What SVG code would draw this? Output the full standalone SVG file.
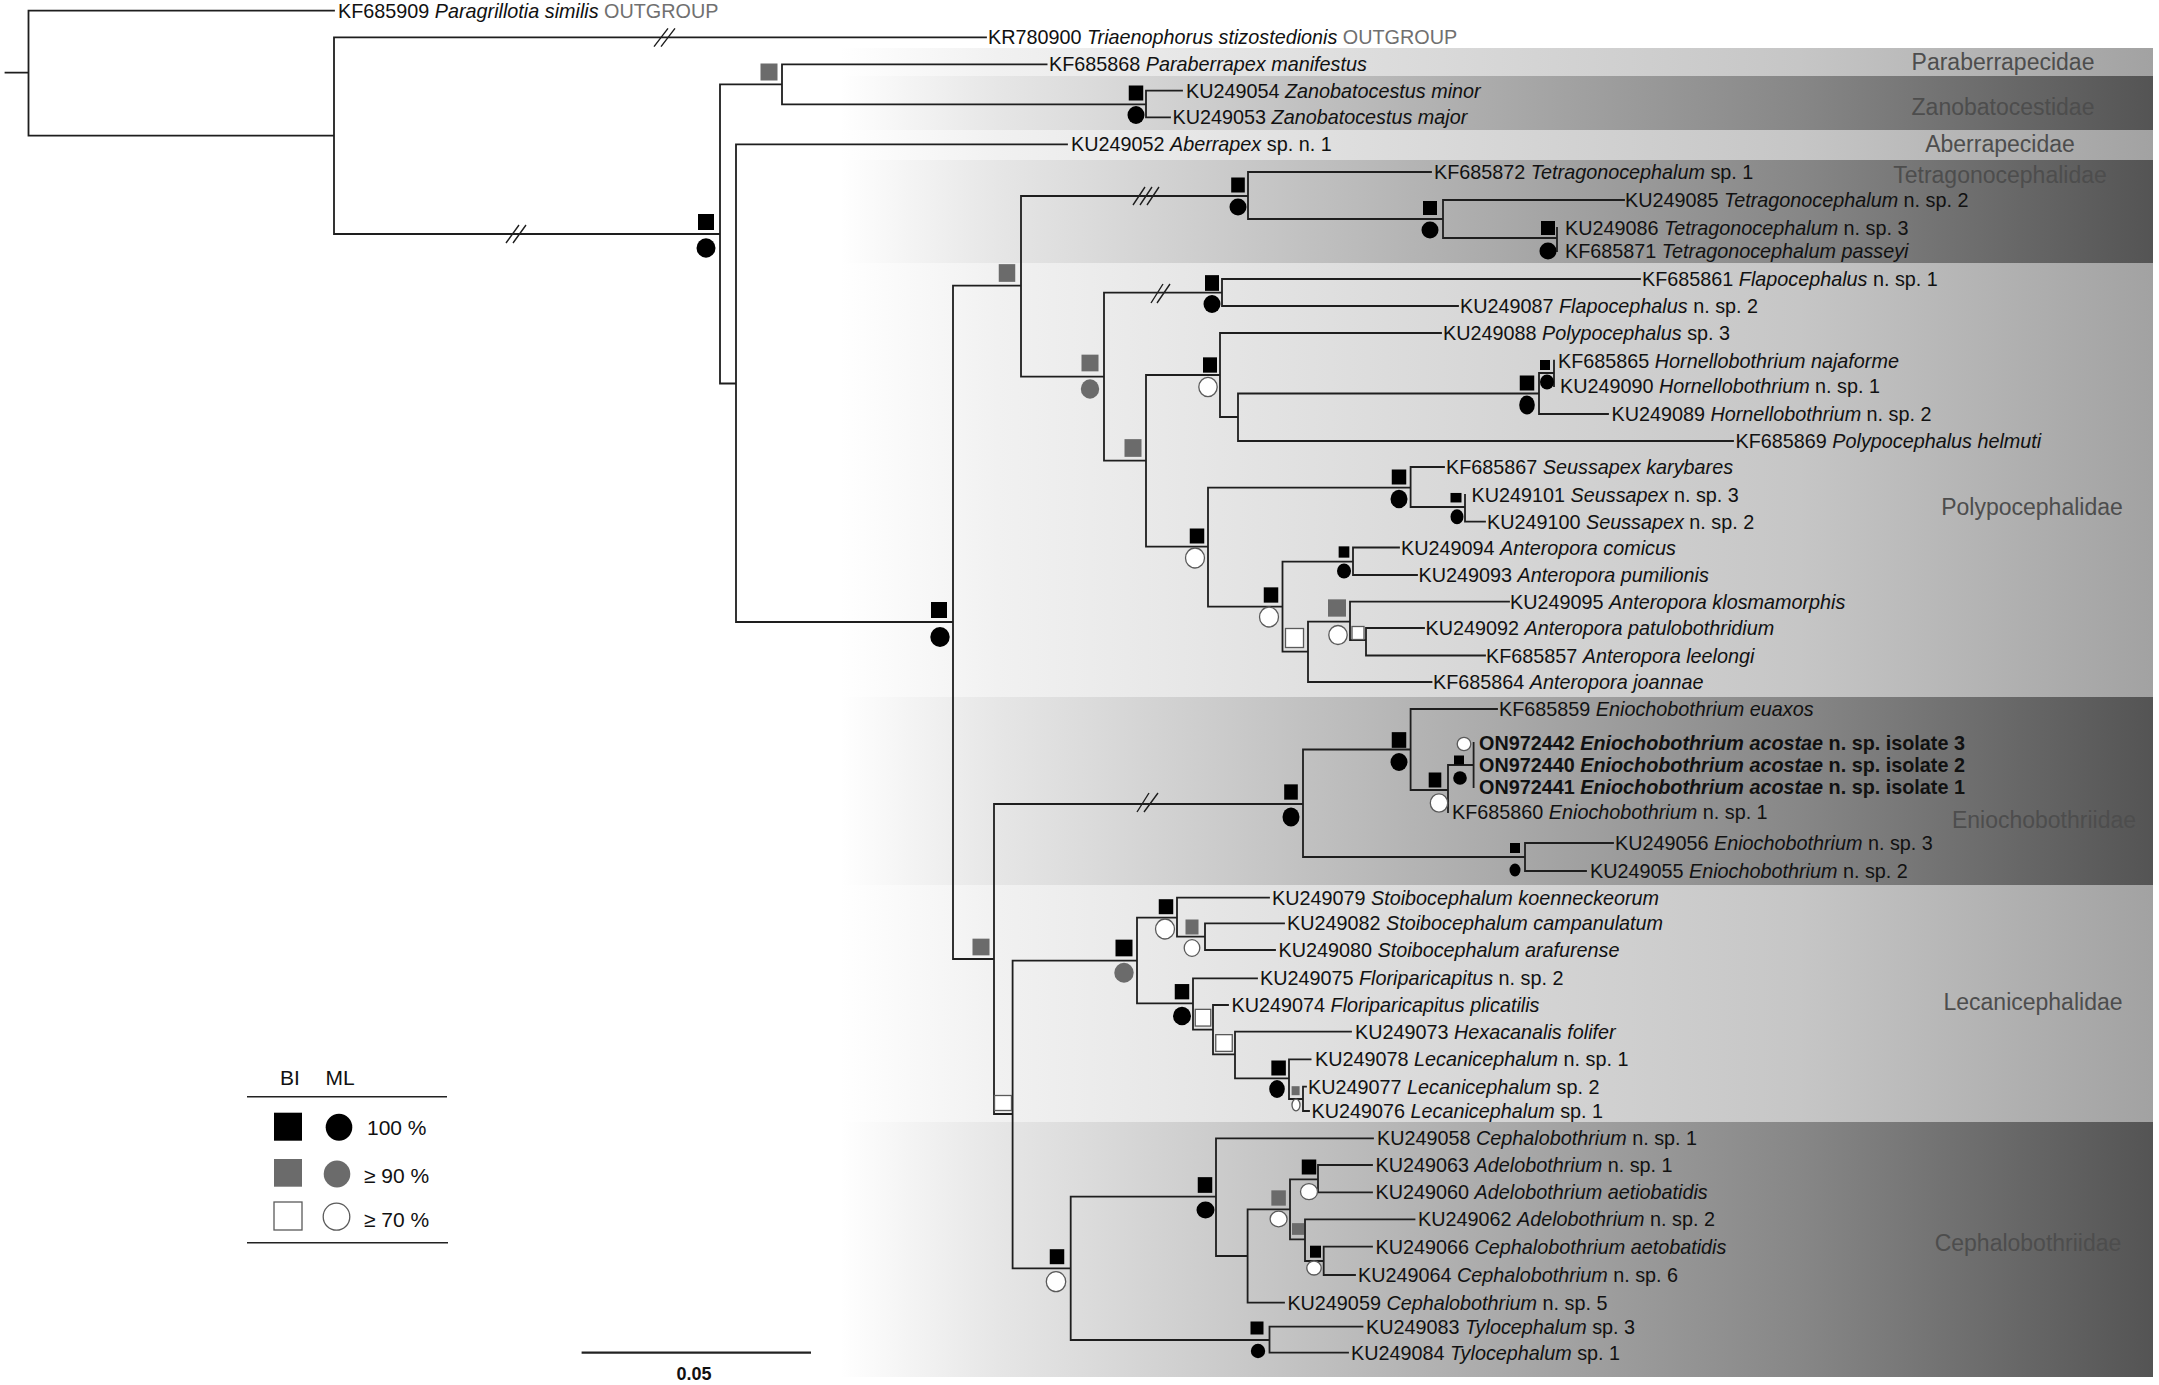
<svg xmlns="http://www.w3.org/2000/svg" width="2159" height="1385" viewBox="0 0 2159 1385">
<style>
.br{stroke:#1e1e1e;stroke-width:1.8;fill:none;stroke-linecap:square}
.sl{stroke:#1e1e1e;stroke-width:1.4;fill:none}
.t{font-family:"Liberation Sans",Arial,sans-serif;font-size:19.8px;fill:#111}
.i{font-style:italic}
.b{font-weight:bold}
.og{fill:#707070}
.fam{font-family:"Liberation Sans",Arial,sans-serif;font-size:23px;fill:#4d4d4d;text-anchor:middle}
.sb{fill:#000}
.sg{fill:#6b6b6b}
.sw{fill:#fff;stroke:#5a5a5a;stroke-width:1.3}
.lg{font-family:"Liberation Sans",Arial,sans-serif;font-size:21px;fill:#111}
</style>
<defs>
<linearGradient id="gl" gradientUnits="userSpaceOnUse" x1="840" y1="0" x2="2153" y2="0">
<stop offset="0" stop-color="#ffffff"/><stop offset="0.12" stop-color="#f1f1f1"/><stop offset="0.43" stop-color="#dbdbdb"/><stop offset="0.73" stop-color="#c6c6c6"/><stop offset="1" stop-color="#a2a2a2"/>
</linearGradient>
<linearGradient id="gd" gradientUnits="userSpaceOnUse" x1="840" y1="0" x2="2153" y2="0">
<stop offset="0" stop-color="#ffffff"/><stop offset="0.12" stop-color="#e6e6e6"/><stop offset="0.43" stop-color="#b5b5b5"/><stop offset="0.73" stop-color="#878787"/><stop offset="1" stop-color="#545454"/>
</linearGradient>
</defs>
<rect width="2159" height="1385" fill="#fff"/>
<g id="bands">
<rect x="840" y="48" width="1313" height="28" fill="url(#gl)"/>
<rect x="840" y="76" width="1313" height="54" fill="url(#gd)"/>
<rect x="840" y="130" width="1313" height="30" fill="url(#gl)"/>
<rect x="840" y="160" width="1313" height="103" fill="url(#gd)"/>
<rect x="840" y="263" width="1313" height="434" fill="url(#gl)"/>
<rect x="840" y="697" width="1313" height="188" fill="url(#gd)"/>
<rect x="840" y="885" width="1313" height="237" fill="url(#gl)"/>
<rect x="840" y="1122" width="1313" height="255" fill="url(#gd)"/>
<text class="fam" x="2003" y="70">Paraberrapecidae</text>
<text class="fam" x="2003" y="115">Zanobatocestidae</text>
<text class="fam" x="2000" y="152">Aberrapecidae</text>
<text class="fam" x="2000" y="183">Tetragonocephalidae</text>
<text class="fam" x="2032" y="515">Polypocephalidae</text>
<text class="fam" x="2044" y="828">Eniochobothriidae</text>
<text class="fam" x="2033" y="1010">Lecanicephalidae</text>
<text class="fam" x="2028" y="1251">Cephalobothriidae</text>
</g>
<g id="connectors">
<path class="br" d="M5.5 72.7H28.5M28.5 10.7V135.7M28.5 10.7H334M28.5 135.7H334M334 37.3V234M334 37.3H986M334 234H720M720 84.3V383.5M720 84.3H782M782 64.3V104.3M782 64.3H1046.6M782 104.3H1146M1146 90.7V117.3M1146 90.7H1182M1146 117.3H1170M720 383.5H736M736 144.3V622M736 144.3H1067M736 622H953M953 285.7V959M953 285.7H1021M1021 196V376.7M1021 196H1248M1248 172V219M1248 172H1431M1248 219H1443M1443 200V238M1443 200H1624M1443 238H1557M1557 228V251M1021 376.7H1104M1104 292.7V460.7M1104 292.7H1222M1222 279V306M1222 279H1640M1222 306H1458M1104 460.7H1146M1146 375V546.7M1146 375H1220M1220 333V417M1220 333H1441M1220 417H1238M1238 393.5V441M1238 393.5H1539M1539 373V414M1539 373H1554M1554 360.7V386M1539 414H1608M1238 441H1733M1146 546.7H1208M1208 487.7V606.7M1208 487.7H1410.6M1410.6 467V507M1410.6 467H1444M1410.6 507H1465M1465 495V521.7M1465 521.7H1485M1208 606.7H1282.5M1282.5 561.7V651.7M1282.5 561.7H1353M1353 547.5V575M1353 547.5H1399M1353 575H1417M1282.5 651.7H1308M1308 621.7V682M1308 621.7H1350M1350 601.7V640M1350 601.7H1509M1350 640H1366M1366 628V655.5M1366 628H1424M1366 655.5H1485M1308 682H1431.5M953 959H994M994 804V1114M994 804H1303M1303 749.5V857M1303 749.5H1410.6M1410.6 709V790M1410.6 709H1497M1410.6 790H1448M1448 765V812M1448 765H1473.6M1473.6 743V787M1303 857H1525M1525 843V871M1525 843H1613M1525 871H1586M994 1114H1012.6M1012.6 960.7V1268.3M1012.6 960.7H1137M1137 917.7V1003.3M1137 917.7H1177M1177 897.7V936.7M1177 897.7H1269M1177 936.7H1205M1205 923.3V950M1205 923.3H1284M1205 950H1275M1137 1003.3H1193M1193 978.3V1029.7M1193 978.3H1257M1193 1029.7H1213M1213 1005V1054.3M1213 1005H1228M1213 1054.3H1235M1235 1031.7V1078.3M1235 1031.7H1351M1235 1078.3H1289M1289 1059.3V1099M1289 1059.3H1310.6M1289 1099H1303M1303 1086.7V1111M1303 1086.7H1306M1303 1111H1309M1012.6 1268.3H1070.7M1070.7 1196.7V1340M1070.7 1196.7H1216M1216 1138.3V1256M1216 1138.3H1373M1216 1256H1247.6M1247.6 1209.3V1302.7M1247.6 1209.3H1290M1290 1179.3V1239.3M1290 1179.3H1318M1318 1165V1192.3M1318 1165H1372M1318 1192.3H1372M1290 1239.3H1305M1305 1219.3V1261M1305 1219.3H1414.5M1305 1261H1323.7M1323.7 1246.7V1275M1323.7 1246.7H1372M1323.7 1275H1355M1247.6 1302.7H1284M1070.7 1340H1269.5M1269.5 1326.7V1352.7M1269.5 1326.7H1362.5M1269.5 1352.7H1348"/>
<path class="sl" d="M654 46.7L668 28.3M661 46.7L675 28.3M506 243L519 225M513 243L526 225M1133 205L1145 187M1140 205L1152 187M1147 205L1159 187M1151 303L1163 284M1157 303L1170 284M1137 812L1149 793M1144 812L1158 793"/>
</g>
<g id="support">
<g id="n1"><rect class="sb" x="698" y="214" width="16" height="16"/><ellipse class="sb" cx="706" cy="248" rx="9.5" ry="9.7"/></g>
<g id="n2"><rect class="sg" x="760.5" y="63.5" width="17" height="17"/></g>
<g id="n3"><rect class="sb" x="1128.75" y="85.5" width="14.5" height="15"/><ellipse class="sb" cx="1136" cy="115" rx="8.5" ry="9"/></g>
<g id="n4"><rect class="sb" x="931" y="602" width="16" height="16"/><ellipse class="sb" cx="940" cy="637" rx="9.7" ry="10"/></g>
<g id="n5"><rect class="sg" x="998.75" y="264.15" width="16.5" height="17.7"/></g>
<g id="n6"><rect class="sb" x="1231.2" y="177.5" width="13.6" height="15"/><ellipse class="sb" cx="1238" cy="207" rx="8.5" ry="8.5"/></g>
<g id="n7"><rect class="sb" x="1423" y="201" width="14" height="14"/><ellipse class="sb" cx="1430" cy="230" rx="8.5" ry="8.5"/></g>
<g id="n8"><rect class="sb" x="1541" y="221" width="14" height="14"/><ellipse class="sb" cx="1548" cy="251" rx="8.5" ry="8.5"/></g>
<g id="n9"><rect class="sg" x="1081.5" y="354.65" width="17" height="16.7"/><ellipse class="sg" cx="1090" cy="389" rx="9.2" ry="9.7"/></g>
<g id="n10"><rect class="sb" x="1205" y="275.15" width="14" height="15.7"/><ellipse class="sb" cx="1212" cy="304" rx="8.5" ry="9"/></g>
<g id="n11"><rect class="sg" x="1124.5" y="439.15" width="17" height="17.7"/></g>
<g id="n12"><rect class="sb" x="1203" y="357.35" width="14" height="15.3"/><ellipse class="sw" cx="1208" cy="387" rx="9.2" ry="9.6"/></g>
<g id="n13"><rect class="sb" x="1519.75" y="375.5" width="14.5" height="15"/><ellipse class="sb" cx="1527" cy="405" rx="7.8" ry="9.5"/></g>
<g id="n14"><rect class="sb" x="1540" y="360" width="10" height="10"/><ellipse class="sb" cx="1547" cy="382" rx="7" ry="7.5"/></g>
<g id="n15"><rect class="sb" x="1189.75" y="528.5" width="14.5" height="15"/><ellipse class="sw" cx="1195" cy="558" rx="9.5" ry="10"/></g>
<g id="n16"><rect class="sb" x="1391.75" y="469.5" width="14.5" height="15"/><ellipse class="sb" cx="1399" cy="499" rx="8.5" ry="9.2"/></g>
<g id="n17"><rect class="sb" x="1450.5" y="492.95" width="11" height="9.5"/><ellipse class="sb" cx="1457" cy="516.7" rx="6.5" ry="7.5"/></g>
<g id="n18"><rect class="sb" x="1263.75" y="587.35" width="14.5" height="15.3"/><ellipse class="sw" cx="1269" cy="617" rx="9.5" ry="10"/></g>
<g id="n19"><rect class="sb" x="1338.65" y="546.35" width="10.7" height="11.3"/><ellipse class="sb" cx="1344" cy="571" rx="7" ry="7.5"/></g>
<g id="n20"><rect class="sw" x="1285.5" y="628.5" width="18" height="19"/></g>
<g id="n21"><rect class="sg" x="1328" y="599.35" width="18" height="17.3"/><ellipse class="sw" cx="1338" cy="635" rx="9.2" ry="9.5"/></g>
<g id="n22"><rect class="sw" x="1352" y="626.5" width="12" height="13"/></g>
<g id="n23"><rect class="sb" x="1284.2" y="784.35" width="13.6" height="15.3"/><ellipse class="sb" cx="1291" cy="817" rx="8.5" ry="9.5"/></g>
<g id="n24"><rect class="sb" x="1391.75" y="732.15" width="14.5" height="15.7"/><ellipse class="sb" cx="1399" cy="762" rx="8.5" ry="9"/></g>
<g id="n25"><rect class="sb" x="1428.7" y="772.5" width="12.6" height="15"/><ellipse class="sw" cx="1439" cy="803" rx="8.7" ry="9.2"/></g>
<g id="n26"><rect class="sb" x="1454" y="755.5" width="10" height="9"/><ellipse class="sb" cx="1460" cy="778" rx="6.8" ry="6.7"/></g>
<g id="n27"><ellipse class="sw" cx="1464" cy="744" rx="6.8" ry="6.7"/></g>
<g id="n28"><rect class="sb" x="1510" y="843" width="10" height="10"/><ellipse class="sb" cx="1515" cy="870" rx="5.5" ry="6.5"/></g>
<g id="n29"><rect class="sg" x="972.5" y="938.65" width="17" height="16.7"/></g>
<g id="n30"><rect class="sw" x="994.5" y="1095.5" width="17" height="15"/></g>
<g id="n31"><rect class="sb" x="1115.5" y="939.65" width="17" height="16.7"/><ellipse class="sg" cx="1124" cy="972.7" rx="9.7" ry="10"/></g>
<g id="n32"><rect class="sb" x="1158.75" y="899.2" width="14.5" height="15"/><ellipse class="sw" cx="1165" cy="929" rx="9.5" ry="10"/></g>
<g id="n33"><rect class="sg" x="1185.5" y="919.5" width="13" height="15"/><ellipse class="sw" cx="1192" cy="948" rx="7.8" ry="8.3"/></g>
<g id="n34"><rect class="sb" x="1174.75" y="984.05" width="14.5" height="15.3"/><ellipse class="sb" cx="1182" cy="1016" rx="9" ry="9.2"/></g>
<g id="n35"><rect class="sw" x="1195.25" y="1009.35" width="15.5" height="16.7"/></g>
<g id="n36"><rect class="sw" x="1215.75" y="1034.65" width="16.5" height="16.7"/></g>
<g id="n37"><rect class="sb" x="1271.35" y="1060.5" width="14.5" height="15"/><ellipse class="sb" cx="1277" cy="1089" rx="7.8" ry="9"/></g>
<g id="n38"><rect class="sg" x="1291.6" y="1086.2" width="8" height="9"/><ellipse class="sw" cx="1296" cy="1105" rx="4" ry="5.8"/></g>
<g id="n39"><rect class="sb" x="1049.75" y="1249.2" width="14.5" height="15"/><ellipse class="sw" cx="1056" cy="1281.7" rx="9.7" ry="10"/></g>
<g id="n40"><rect class="sb" x="1197.75" y="1177.15" width="14.5" height="15.7"/><ellipse class="sb" cx="1205.5" cy="1210" rx="9" ry="8.4"/></g>
<g id="n41"><rect class="sg" x="1271.35" y="1190.35" width="14.5" height="15.3"/><ellipse class="sw" cx="1278.6" cy="1219" rx="8.5" ry="7.9"/></g>
<g id="n42"><rect class="sb" x="1301.75" y="1159.5" width="14.5" height="15"/><ellipse class="sw" cx="1309" cy="1191.7" rx="8.5" ry="8"/></g>
<g id="n43"><rect class="sg" x="1292" y="1223.15" width="12" height="11.7"/></g>
<g id="n44"><rect class="sb" x="1310" y="1245.7" width="11" height="12"/><ellipse class="sw" cx="1314" cy="1268" rx="7.2" ry="7"/></g>
<g id="n45"><rect class="sb" x="1250.5" y="1321.5" width="13" height="13"/><ellipse class="sb" cx="1258" cy="1351" rx="7.2" ry="7.2"/></g>
</g>
<g id="leaves">
<g id="L1"><text class="t" x="338" y="17.7">KF685909 <tspan class="i">Paragrillotia similis</tspan> <tspan class="og">OUTGROUP</tspan></text></g>
<g id="L2"><text class="t" x="988" y="44.3">KR780900 <tspan class="i">Triaenophorus stizostedionis</tspan> <tspan class="og">OUTGROUP</tspan></text></g>
<g id="L3"><text class="t" x="1049" y="71.3">KF685868 <tspan class="i">Paraberrapex manifestus</tspan></text></g>
<g id="L4"><text class="t" x="1186" y="97.7">KU249054 <tspan class="i">Zanobatocestus minor</tspan></text></g>
<g id="L5"><text class="t" x="1172.6" y="124.3">KU249053 <tspan class="i">Zanobatocestus major</tspan></text></g>
<g id="L6"><text class="t" x="1071" y="151.3">KU249052 <tspan class="i">Aberrapex</tspan> sp. n. 1</text></g>
<g id="L7"><text class="t" x="1434" y="179">KF685872 <tspan class="i">Tetragonocephalum</tspan> sp. 1</text></g>
<g id="L8"><text class="t" x="1625" y="207">KU249085 <tspan class="i">Tetragonocephalum</tspan> n. sp. 2</text></g>
<g id="L9"><text class="t" x="1565" y="235">KU249086 <tspan class="i">Tetragonocephalum</tspan> n. sp. 3</text></g>
<g id="L10"><text class="t" x="1565" y="258">KF685871 <tspan class="i">Tetragonocephalum passeyi</tspan></text></g>
<g id="L11"><text class="t" x="1642" y="286">KF685861 <tspan class="i">Flapocephalus</tspan> n. sp. 1</text></g>
<g id="L12"><text class="t" x="1460" y="313">KU249087 <tspan class="i">Flapocephalus</tspan> n. sp. 2</text></g>
<g id="L13"><text class="t" x="1443" y="340">KU249088 <tspan class="i">Polypocephalus</tspan> sp. 3</text></g>
<g id="L14"><text class="t" x="1558" y="367.7">KF685865 <tspan class="i">Hornellobothrium najaforme</tspan></text></g>
<g id="L15"><text class="t" x="1560" y="393">KU249090 <tspan class="i">Hornellobothrium</tspan> n. sp. 1</text></g>
<g id="L16"><text class="t" x="1611.5" y="421">KU249089 <tspan class="i">Hornellobothrium</tspan> n. sp. 2</text></g>
<g id="L17"><text class="t" x="1735.5" y="448">KF685869 <tspan class="i">Polypocephalus helmuti</tspan></text></g>
<g id="L18"><text class="t" x="1446" y="474">KF685867 <tspan class="i">Seussapex karybares</tspan></text></g>
<g id="L19"><text class="t" x="1471.6" y="502">KU249101 <tspan class="i">Seussapex</tspan> n. sp. 3</text></g>
<g id="L20"><text class="t" x="1487" y="528.7">KU249100 <tspan class="i">Seussapex</tspan> n. sp. 2</text></g>
<g id="L21"><text class="t" x="1401" y="554.5">KU249094 <tspan class="i">Anteropora comicus</tspan></text></g>
<g id="L22"><text class="t" x="1418.5" y="582">KU249093 <tspan class="i">Anteropora pumilionis</tspan></text></g>
<g id="L23"><text class="t" x="1510" y="608.7">KU249095 <tspan class="i">Anteropora klosmamorphis</tspan></text></g>
<g id="L24"><text class="t" x="1425.6" y="635">KU249092 <tspan class="i">Anteropora patulobothridium</tspan></text></g>
<g id="L25"><text class="t" x="1486" y="662.5">KF685857 <tspan class="i">Anteropora leelongi</tspan></text></g>
<g id="L26"><text class="t" x="1433" y="689">KF685864 <tspan class="i">Anteropora joannae</tspan></text></g>
<g id="L27"><text class="t" x="1499" y="716">KF685859 <tspan class="i">Eniochobothrium euaxos</tspan></text></g>
<g id="L28"><text class="t b" x="1479" y="750">ON972442 <tspan class="i">Eniochobothrium acostae</tspan> n. sp. isolate 3</text></g>
<g id="L29"><text class="t b" x="1479" y="772">ON972440 <tspan class="i">Eniochobothrium acostae</tspan> n. sp. isolate 2</text></g>
<g id="L30"><text class="t b" x="1479" y="794">ON972441 <tspan class="i">Eniochobothrium acostae</tspan> n. sp. isolate 1</text></g>
<g id="L31"><text class="t" x="1452" y="819">KF685860 <tspan class="i">Eniochobothrium</tspan> n. sp. 1</text></g>
<g id="L32"><text class="t" x="1615" y="850">KU249056 <tspan class="i">Eniochobothrium</tspan> n. sp. 3</text></g>
<g id="L33"><text class="t" x="1590" y="878">KU249055 <tspan class="i">Eniochobothrium</tspan> n. sp. 2</text></g>
<g id="L34"><text class="t" x="1272" y="904.7">KU249079 <tspan class="i">Stoibocephalum koenneckeorum</tspan></text></g>
<g id="L35"><text class="t" x="1287" y="930.3">KU249082 <tspan class="i">Stoibocephalum campanulatum</tspan></text></g>
<g id="L36"><text class="t" x="1278.6" y="957">KU249080 <tspan class="i">Stoibocephalum arafurense</tspan></text></g>
<g id="L37"><text class="t" x="1260" y="985.3">KU249075 <tspan class="i">Floriparicapitus</tspan> n. sp. 2</text></g>
<g id="L38"><text class="t" x="1231.6" y="1012">KU249074 <tspan class="i">Floriparicapitus plicatilis</tspan></text></g>
<g id="L39"><text class="t" x="1355" y="1038.7">KU249073 <tspan class="i">Hexacanalis folifer</tspan></text></g>
<g id="L40"><text class="t" x="1315" y="1066.3">KU249078 <tspan class="i">Lecanicephalum</tspan> n. sp. 1</text></g>
<g id="L41"><text class="t" x="1308" y="1093.7">KU249077 <tspan class="i">Lecanicephalum</tspan> sp. 2</text></g>
<g id="L42"><text class="t" x="1311.6" y="1118">KU249076 <tspan class="i">Lecanicephalum</tspan> sp. 1</text></g>
<g id="L43"><text class="t" x="1377" y="1145.3">KU249058 <tspan class="i">Cephalobothrium</tspan> n. sp. 1</text></g>
<g id="L44"><text class="t" x="1375.6" y="1172">KU249063 <tspan class="i">Adelobothrium</tspan> n. sp. 1</text></g>
<g id="L45"><text class="t" x="1375.6" y="1199.3">KU249060 <tspan class="i">Adelobothrium aetiobatidis</tspan></text></g>
<g id="L46"><text class="t" x="1418" y="1226.3">KU249062 <tspan class="i">Adelobothrium</tspan> n. sp. 2</text></g>
<g id="L47"><text class="t" x="1375.6" y="1253.7">KU249066 <tspan class="i">Cephalobothrium aetobatidis</tspan></text></g>
<g id="L48"><text class="t" x="1358" y="1282">KU249064 <tspan class="i">Cephalobothrium</tspan> n. sp. 6</text></g>
<g id="L49"><text class="t" x="1287.4" y="1309.7">KU249059 <tspan class="i">Cephalobothrium</tspan> n. sp. 5</text></g>
<g id="L50"><text class="t" x="1366" y="1333.7">KU249083 <tspan class="i">Tylocephalum</tspan> sp. 3</text></g>
<g id="L51"><text class="t" x="1351" y="1359.7">KU249084 <tspan class="i">Tylocephalum</tspan> sp. 1</text></g>
</g>
<g id="legend">
<text class="lg" x="290" y="1085" text-anchor="middle">BI</text>
<text class="lg" x="340" y="1085" text-anchor="middle">ML</text>
<path d="M247 1096.7H447M247 1242.7H448" stroke="#222" stroke-width="1.6"/>
<rect class="sb" x="274" y="1112.7" width="28" height="28"/>
<ellipse class="sb" cx="339" cy="1127.3" rx="13.3" ry="13.5"/>
<text class="lg" x="367" y="1135">100 %</text>
<rect class="sg" x="274" y="1159" width="28" height="27.7"/>
<ellipse class="sg" cx="337" cy="1174" rx="13.3" ry="13.5"/>
<text class="lg" x="364" y="1183">≥ 90 %</text>
<rect class="sw" x="274" y="1202" width="28" height="28"/>
<ellipse class="sw" cx="336.5" cy="1216.7" rx="13.3" ry="13.5"/>
<text class="lg" x="364" y="1227">≥ 70 %</text>
</g>
<g id="scale">
<path d="M581.6 1352.7H811" stroke="#222" stroke-width="2.2"/>
<text x="694" y="1380" text-anchor="middle" font-family="Liberation Sans, Arial, sans-serif" font-size="18px" font-weight="bold" fill="#111">0.05</text>
</g>
</svg>
